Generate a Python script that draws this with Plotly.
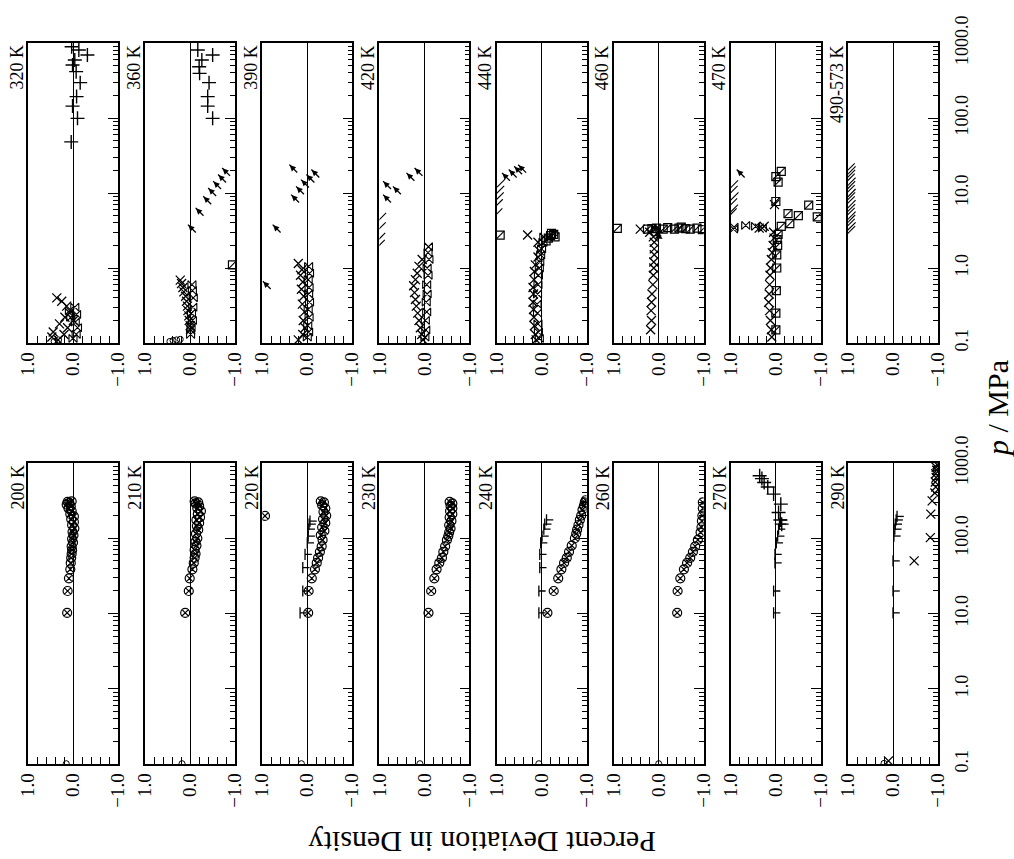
import plotly.graph_objects as go

W, H = 1014, 859
SERIF = "Liberation Serif, Times New Roman, serif"

# ---------------------------------------------------------------- labels / ticks
TOP_LABELS = ["320 K", "360 K", "390 K", "420 K", "440 K", "460 K", "470 K", "490-573 K"]
BOTTOM_LABELS = ["200 K", "210 K", "220 K", "230 K", "240 K", "260 K", "270 K", "290 K"]

P_TICKS = [0.1, 1, 10, 100, 1000]
P_TICK_TEXT = ["0.1", "1.0", "10.0", "100.0", "1000.0"]
DEV_TICKS = [1.0, 0.0, -1.0]
DEV_TICK_TEXT = ["1.0", "0.0", "\u22121.0"]

# ---------------------------------------------------------------- data (p in MPa, deviation in %)
# 200 K
P200_CIRC = [10.2, 19.9, 29.3, 38.6, 47, 55, 62, 70, 78, 88, 98, 110, 122, 135, 150, 165, 180, 195,
             210, 230, 250, 265, 280, 295, 305, 310]
D200_CIRC = [0.13, 0.12, 0.09, 0.06, 0.05, 0.04, 0.03, 0.02, 0.03, 0.0, 0.02, -0.01, 0.01, -0.03, 0.02,
             -0.02, 0.04, -0.02, 0.06, 0.03, 0.10, 0.05, 0.14, 0.08, 0.12, 0.03]
P200_RING = [0.101]
D200_RING = [0.15]

# 210 K
P210_CIRC = [10.2, 19.9, 29.3, 38.6, 47, 55, 62, 70, 80, 90, 100, 115, 130, 145, 160, 175, 190, 210,
             230, 250, 270, 290, 300, 310]
D210_CIRC = [0.11, 0.03, 0.01, -0.05, -0.08, -0.10, -0.12, -0.10, -0.14, -0.12, -0.16, -0.13, -0.18,
             -0.15, -0.20, -0.14, -0.22, -0.17, -0.24, -0.16, -0.20, -0.12, -0.18, -0.10]
P210_RING = [0.101]
D210_RING = [0.18]

# 220 K
P220_CIRC = [10.2, 19.9, 29.3, 38.6, 47, 55, 66, 78, 95, 110, 125, 140, 160, 180, 200, 225, 250, 275,
             300, 310, 198]
D220_CIRC = [-0.02, -0.03, -0.10, -0.17, -0.21, -0.24, -0.28, -0.32, -0.34, -0.30, -0.38, -0.33, -0.40,
             -0.35, -0.42, -0.36, -0.40, -0.33, -0.37, -0.30, 0.94]
P220_TEE = [10.2, 19.9, 40.6, 61, 87, 107, 132, 154, 169]
D220_TEE = [0.16, 0.10, 0.10, 0.05, 0.0, -0.02, -0.02, -0.04, -0.06]
P220_RING = [0.101]
D220_RING = [0.13]

# 230 K
P230_CIRC = [10.2, 19.9, 29.3, 38.6, 47, 55, 66, 78, 95, 107, 120, 135, 150, 170, 190, 210, 230, 250,
             270, 290, 305]
D230_CIRC = [-0.09, -0.15, -0.22, -0.27, -0.33, -0.39, -0.42, -0.46, -0.50, -0.53, -0.55, -0.58, -0.55,
             -0.60, -0.56, -0.62, -0.57, -0.62, -0.58, -0.62, -0.56]
P230_RING = [0.101]
D230_RING = [0.10]

# 240 K
P240_CIRC = [10.2, 19.9, 29.3, 38.6, 47, 55, 66, 80, 100, 115, 130, 150, 175, 200, 240, 270, 300, 320]
D240_CIRC = [-0.13, -0.27, -0.37, -0.44, -0.50, -0.56, -0.61, -0.67, -0.74, -0.77, -0.79, -0.82, -0.85,
             -0.88, -0.91, -0.94, -0.96, -0.98]
P240_TEE = [10.2, 19.9, 40.6, 61, 87, 107, 132, 154, 175]
D240_TEE = [0.06, 0.06, 0.04, 0.04, 0.02, -0.01, -0.05, -0.07, -0.11]
P240_RING = [0.101]
D240_RING = [0.06]

# 260 K
P260_CIRC = [10.2, 19.9, 29.3, 38.6, 47, 55, 66, 78, 95, 120, 140, 170, 200, 250, 300]
D260_CIRC = [-0.41, -0.42, -0.48, -0.56, -0.63, -0.70, -0.76, -0.81, -0.87, -0.93, -0.95, -0.96, -0.97,
             -0.98, -0.98]
P260_RING = [0.101]
D260_RING = [0.0]

# 270 K
P270_TEE = [10.2, 19.9, 47, 61, 87, 107, 132, 154, 175]
D270_TEE = [0.05, 0.05, 0.02, 0.02, -0.01, -0.04, -0.06, -0.08, -0.10]
P270_PLUS = [677, 620, 550, 480, 386, 284, 220, 175, 154]
D270_PLUS = [0.36, 0.31, 0.26, 0.18, 0.05, -0.11, -0.06, -0.10, -0.13]

# 290 K
P290_TEE = [10.2, 19.9, 50, 107, 132, 154, 175, 195]
D290_TEE = [0.0, 0.0, 0.0, -0.02, -0.04, -0.05, -0.07, -0.09]
P290_CROSS = [50, 102, 209, 314, 400, 480, 560, 640, 720, 800, 880, 950, 0.11]
D290_CROSS = [-0.47, -0.83, -0.84, -0.87, -0.93, -0.95, -0.94, -0.96, -0.95, -0.97, -0.96, -0.98, 0.10]
P290_RING = [0.102]
D290_RING = [0.20]

# 320 K
P320_PLUS = [893, 807, 692, 593, 509, 415, 296, 193, 144, 99, 48]
D320_PLUS = [0.03, -0.13, -0.32, -0.04, 0.01, -0.07, -0.16, -0.08, 0.01, -0.10, 0.04]
P320_CROSS = [0.40, 0.36, 0.31, 0.25, 0.20, 0.16, 0.14, 0.12, 0.11, 0.13, 0.18, 0.22]
D320_CROSS = [0.36, 0.25, 0.14, 0.07, -0.01, 0.12, 0.44, 0.47, 0.33, 0.20, 0.30, 0.18]
P320_BOW = [0.30, 0.24, 0.19, 0.16, 0.13, 0.115, 0.22, 0.27]
D320_BOW = [-0.04, -0.08, -0.05, -0.10, -0.07, 0.0, 0.05, 0.08]
P320_RING = [0.105, 0.11]
D320_RING = [0.42, 0.32]

# 360 K
P360_PLUS = [807, 593, 483, 394, 692, 296, 193, 144, 99]
D360_PLUS = [-0.17, -0.26, -0.20, -0.21, -0.50, -0.42, -0.39, -0.39, -0.50]
P360_ARROW = [3.74, 6.25, 8.93, 11.5, 14.2, 17.4, 21.3]
D360_ARROW = [0.04, -0.13, -0.30, -0.41, -0.52, -0.63, -0.72]
P360_SQ = [1.1]
D360_SQ = [-0.94]
P360_CROSS = [0.69, 0.62, 0.55, 0.48, 0.42, 0.36, 0.31, 0.27, 0.23, 0.20, 0.17, 0.15]
D360_CROSS = [0.22, 0.19, 0.16, 0.14, 0.10, 0.08, 0.06, 0.05, 0.03, 0.02, 0.0, -0.01]
P360_BOW = [0.60, 0.50, 0.40, 0.30, 0.25, 0.20, 0.16, 0.13]
D360_BOW = [-0.04, -0.05, -0.07, -0.06, -0.03, -0.05, -0.02, -0.01]
P360_RING = [0.105, 0.108, 0.11, 0.112]
D360_RING = [0.45, 0.38, 0.30, 0.22]

# 390 K
P390_ARROW = [23.6, 9.4, 12.1, 14.9, 17.4, 20.3, 3.74, 0.66]
D390_ARROW = [0.39, 0.35, 0.24, 0.13, 0.01, -0.10, 0.76, 0.98]
P390_CROSS = [1.15, 0.95, 0.80, 0.65, 0.52, 0.42, 0.33, 0.26, 0.20, 0.16, 0.13, 0.11]
D390_CROSS = [0.20, 0.12, 0.15, 0.10, 0.13, 0.08, 0.11, 0.06, 0.09, 0.05, 0.10, 0.20]
P390_BOW = [1.05, 0.85, 0.70, 0.55, 0.45, 0.35, 0.28, 0.22, 0.17, 0.14, 0.12]
D390_BOW = [-0.03, -0.05, -0.02, -0.04, -0.03, -0.05, -0.02, -0.04, -0.01, -0.03, 0.0]

# 420 K
P420_ARROW = [14.2, 12.1, 9.4, 18.3, 21.3]
D420_ARROW = [0.91, 0.69, 0.91, 0.39, 0.21]
P420_SLASH = [4.8, 3.6, 2.6, 2.1]
D420_SLASH = [0.94, 0.95, 0.96, 0.97]
P420_CROSS = [1.3, 1.05, 0.85, 0.70, 0.58, 0.47, 0.38, 0.31, 0.25, 0.20, 0.16, 0.13, 0.11]
D420_CROSS = [0.05, 0.12, 0.16, 0.20, 0.24, 0.22, 0.20, 0.18, 0.15, 0.12, 0.09, 0.06, 0.03]
P420_BOW = [1.92, 1.6, 1.3, 1.0, 0.80, 0.60, 0.45, 0.35, 0.26, 0.20, 0.15, 0.12]
D420_BOW = [-0.09, -0.08, -0.10, -0.06, -0.08, -0.05, -0.06, -0.04, -0.05, -0.02, -0.03, -0.01]

# 440 K
P440_ARROW = [18.3, 20.3, 22.4, 23.5]
D440_ARROW = [0.87, 0.72, 0.60, 0.51]
P440_SLASH = [13.5, 11, 9, 7.3, 5.5]
D440_SLASH = [0.90, 0.92, 0.93, 0.95, 0.96]
P440_SQ = [2.75, 2.8, 2.6, 2.7, 2.5, 2.3, 2.9]
D440_SQ = [0.92, -0.27, -0.30, -0.20, -0.15, -0.10, -0.22]
P440_CROSS = [2.75, 2.2, 1.7, 1.4, 1.1, 0.9, 0.7, 0.55, 0.45, 0.35, 0.28, 0.22, 0.17, 0.13, 0.11]
D440_CROSS = [0.31, 0.08, 0.05, 0.08, 0.14, 0.16, 0.17, 0.19, 0.18, 0.19, 0.18, 0.17, 0.16, 0.14, 0.12]
P440_BOW = [2.6, 2.2, 1.8, 1.5, 1.2, 1.0, 0.8, 0.6, 0.45, 0.33, 0.25, 0.18, 0.14, 0.115]
D440_BOW = [-0.05, -0.03, 0.0, 0.02, 0.04, 0.05, 0.07, 0.08, 0.09, 0.10, 0.09, 0.08, 0.07, 0.05]

# 460 K
P460_SQ = [3.38, 3.3, 3.35, 3.4, 3.3, 3.45, 3.3, 3.4, 3.5, 3.35, 3.3, 3.4, 3.25]
D460_SQ = [0.92, 0.25, 0.15, 0.05, -0.10, -0.20, -0.35, -0.45, -0.50, -0.60, -0.70, -0.85, -0.97]
P460_CROSS = [3.3, 3.0, 2.6, 2.2, 1.8, 1.5, 1.2, 1.0, 0.8, 0.6, 0.45, 0.35, 0.27, 0.20, 0.15]
D460_CROSS = [0.41, 0.20, 0.12, 0.10, 0.10, 0.10, 0.11, 0.11, 0.12, 0.13, 0.15, 0.16, 0.17, 0.16, 0.18]
P460_TRI = [3.3, 3.1, 2.8, 3.5, 2.6]
D460_TRI = [0.05, -0.02, 0.02, 0.08, 0.0]

# 470 K
P470_ARROW = [20.3]
D470_ARROW = [0.86]
P470_SLASH = [13, 11, 9, 7.5, 6.2, 5.5]
D470_SLASH = [0.93, 0.94, 0.92, 0.95, 0.93, 0.96]
P470_BOW = [3.3, 3.5, 3.7, 3.6, 3.4]
D470_BOW = [0.94, 0.93, 0.67, 0.45, 0.30]
P470_CROSS = [3.4, 3.6, 7.0, 3.0, 2.5, 2.0, 1.6, 1.3, 1.0, 0.8, 0.6, 0.45, 0.35, 0.27, 0.20, 0.15, 0.12]
D470_CROSS = [0.37, 0.26, 0.03, 0.05, 0.04, 0.06, 0.08, 0.10, 0.12, 0.13, 0.14, 0.15, 0.16, 0.14, 0.12,
              0.10, 0.09]
P470_SQ = [16.5, 14, 19.4, 7.7, 5.3, 5.0, 6.9, 4.8, 3.6, 3.9, 2.8, 2.4, 2.0, 1.5, 1.0, 0.5, 0.25, 0.15]
D470_SQ = [0.0, -0.05, -0.12, 0.0, -0.27, -0.50, -0.73, -0.92, -0.12, -0.31, -0.05, -0.03, -0.04, -0.02,
           -0.02, -0.01, 0.0, 0.0]

# 490-573 K
P490_SLASH = [3.2, 3.6, 4.0, 4.5, 5.0, 5.6, 6.3, 7.1, 8.0, 9.0, 10, 11.3, 12.7, 14.2, 16, 18, 20, 22]
D490_SLASH = [0.93, 0.92, 0.94, 0.93, 0.92, 0.94, 0.93, 0.92, 0.94, 0.93, 0.92, 0.94, 0.93, 0.92, 0.94,
              0.93, 0.92, 0.94]

PANELS = {
    "200 K": [("circ", P200_CIRC, D200_CIRC), ("ring", P200_RING, D200_RING)],
    "210 K": [("circ", P210_CIRC, D210_CIRC), ("ring", P210_RING, D210_RING)],
    "220 K": [("tee", P220_TEE, D220_TEE), ("circ", P220_CIRC, D220_CIRC), ("ring", P220_RING, D220_RING)],
    "230 K": [("circ", P230_CIRC, D230_CIRC), ("ring", P230_RING, D230_RING)],
    "240 K": [("tee", P240_TEE, D240_TEE), ("circ", P240_CIRC, D240_CIRC), ("ring", P240_RING, D240_RING)],
    "260 K": [("circ", P260_CIRC, D260_CIRC), ("ring", P260_RING, D260_RING)],
    "270 K": [("tee", P270_TEE, D270_TEE), ("plus", P270_PLUS, D270_PLUS)],
    "290 K": [("tee", P290_TEE, D290_TEE), ("cross", P290_CROSS, D290_CROSS), ("ring", P290_RING, D290_RING)],
    "320 K": [("plus", P320_PLUS, D320_PLUS), ("cross", P320_CROSS, D320_CROSS),
              ("bow", P320_BOW, D320_BOW), ("ring", P320_RING, D320_RING)],
    "360 K": [("plus", P360_PLUS, D360_PLUS), ("arrow", P360_ARROW, D360_ARROW), ("sq", P360_SQ, D360_SQ),
              ("cross", P360_CROSS, D360_CROSS), ("bow", P360_BOW, D360_BOW), ("ring", P360_RING, D360_RING)],
    "390 K": [("arrow", P390_ARROW, D390_ARROW), ("cross", P390_CROSS, D390_CROSS), ("bow", P390_BOW, D390_BOW)],
    "420 K": [("arrow", P420_ARROW, D420_ARROW), ("slash", P420_SLASH, D420_SLASH),
              ("cross", P420_CROSS, D420_CROSS), ("bow", P420_BOW, D420_BOW)],
    "440 K": [("arrow", P440_ARROW, D440_ARROW), ("slash", P440_SLASH, D440_SLASH), ("sq", P440_SQ, D440_SQ),
              ("cross", P440_CROSS, D440_CROSS), ("bow", P440_BOW, D440_BOW)],
    "460 K": [("sq", P460_SQ, D460_SQ), ("cross", P460_CROSS, D460_CROSS), ("tri", P460_TRI, D460_TRI)],
    "470 K": [("arrow", P470_ARROW, D470_ARROW), ("slash", P470_SLASH, D470_SLASH), ("bow", P470_BOW, D470_BOW),
              ("cross", P470_CROSS, D470_CROSS), ("sq", P470_SQ, D470_SQ)],
    "490-573 K": [("slash", P490_SLASH, D490_SLASH)],
}

# ---------------------------------------------------------------- marker styles
BLACK = "black"
STYLE = {
    "circ": dict(symbol="circle-x-open", size=9, color=BLACK, line=dict(width=1.2, color=BLACK)),
    "ring": dict(symbol="circle-open", size=6, color=BLACK, line=dict(width=1, color=BLACK)),
    "plus": dict(symbol="cross-thin-open", size=10, color=BLACK, line=dict(width=1.4, color=BLACK)),
    "cross": dict(symbol="x-thin-open", size=9, color=BLACK, line=dict(width=1.3, color=BLACK)),
    "bow": dict(symbol="bowtie-open", size=8, color=BLACK, line=dict(width=1.1, color=BLACK)),
    "sq": dict(symbol="square-open", size=8, color=BLACK, line=dict(width=1.2, color=BLACK)),
    "slash": dict(symbol="line-ne-open", size=8, color=BLACK, line=dict(width=1.1, color=BLACK)),
    "tri": dict(symbol="triangle-up", size=7, color=BLACK, line=dict(width=0)),
    "tee": dict(symbol="line-ns-open", size=8, color=BLACK, line=dict(width=1.3, color=BLACK)),
    # arrow: head with its tip on the point, shaft trailing down-right behind it
    "arrow_shaft": dict(symbol="line-ns-open", size=8, angle=-45, standoff=5, color=BLACK,
                        line=dict(width=1.3, color=BLACK)),
    "arrow_head": dict(symbol="arrow-up", size=6, angle=-45, color=BLACK, line=dict(width=0)),
}
TEE_STEM = 0.15  # length of the tee stem in deviation units

fig = go.Figure()

all_labels = TOP_LABELS + BOTTOM_LABELS
minor_p = [m * 10.0 ** e for e in range(-1, 3) for m in range(2, 10)]

PANEL_W = 90
PITCH = (848 - 28) / 7
ROWS = [(43, 343), (463, 764)]

annotations = []
for idx, label in enumerate(all_labels):
    row, col = divmod(idx, 8)
    suffix = "" if idx == 0 else str(idx + 1)
    xref, yref = "x" + suffix, "y" + suffix

    for kind, p, d in PANELS[label]:
        common = dict(x=d, y=p, xaxis=xref, yaxis=yref, showlegend=False, hoverinfo="skip", mode="markers")
        if kind == "arrow":
            fig.add_trace(go.Scatter(marker=STYLE["arrow_shaft"], **common))
            fig.add_trace(go.Scatter(marker=STYLE["arrow_head"], **common))
        elif kind == "tee":
            n = len(p)
            fig.add_trace(go.Scatter(marker=STYLE["tee"],
                                     error_x=dict(type="data", symmetric=False, array=[0] * n,
                                                  arrayminus=[TEE_STEM] * n, width=0,
                                                  thickness=1.3, color=BLACK), **common))
        elif kind == "sq":
            fig.add_trace(go.Scatter(marker=STYLE["sq"], **common))
            fig.add_trace(go.Scatter(marker=STYLE["slash"], **common))
        else:
            fig.add_trace(go.Scatter(marker=STYLE[kind], **common))

    x0 = 28 + col * PITCH
    top, bot = ROWS[row]
    fig.layout["xaxis" + suffix] = dict(
        domain=[x0 / W, (x0 + PANEL_W) / W], anchor=yref, range=[1.0, -1.0],
        tickvals=DEV_TICKS, ticktext=DEV_TICK_TEXT, tickangle=-90,
        ticks="inside", ticklen=7, tickwidth=1, tickcolor=BLACK,
        minor=dict(dtick=0.2, tick0=0, ticks="inside", ticklen=7, tickwidth=1, tickcolor=BLACK, showgrid=False),
        showgrid=False, zeroline=True, zerolinecolor=BLACK, zerolinewidth=1,
        showline=True, linecolor=BLACK, linewidth=1.5, mirror=True, automargin=False,
        tickfont=dict(family=SERIF, size=19, color=BLACK), fixedrange=True,
    )
    fig.layout["yaxis" + suffix] = dict(
        domain=[1 - bot / H, 1 - top / H], anchor=xref, type="log", range=[-1, 3], side="right",
        tickvals=P_TICKS, ticktext=P_TICK_TEXT, showticklabels=(col == 7), tickangle=-90,
        ticks="inside", ticklen=10, tickwidth=1, tickcolor=BLACK, ticklabelstandoff=7,
        minor=dict(tickvals=minor_p, ticks="inside", ticklen=5, tickwidth=1, tickcolor=BLACK, showgrid=False),
        showgrid=False, zeroline=False, showline=True, linecolor=BLACK, linewidth=1.5, mirror=True,
        automargin=False, tickfont=dict(family=SERIF, size=18, color=BLACK), fixedrange=True,
    )
    annotations.append(dict(
        text=label, xref="paper", yref="paper", x=(x0 - 11) / W, y=1 - top / H,
        xanchor="center", yanchor="top", textangle=-90, showarrow=False,
        font=dict(family=SERIF, size=18, color=BLACK),
    ))

annotations.append(dict(
    text="Percent Deviation in Density", xref="paper", yref="paper", x=483 / W, y=1 - 843 / H,
    xanchor="center", yanchor="middle", textangle=180, showarrow=False,
    font=dict(family=SERIF, size=30, color=BLACK),
))
annotations.append(dict(
    text="<i>p</i> / MPa", xref="paper", yref="paper", x=997 / W, y=1 - 409 / H,
    xanchor="center", yanchor="middle", textangle=-90, showarrow=False,
    font=dict(family=SERIF, size=30, color=BLACK),
))

fig.update_layout(
    width=W, height=H, margin=dict(l=0, r=0, t=0, b=0, autoexpand=False),
    paper_bgcolor="white", plot_bgcolor="white",
    annotations=annotations, showlegend=False,
)

fig.write_html("out.html")
